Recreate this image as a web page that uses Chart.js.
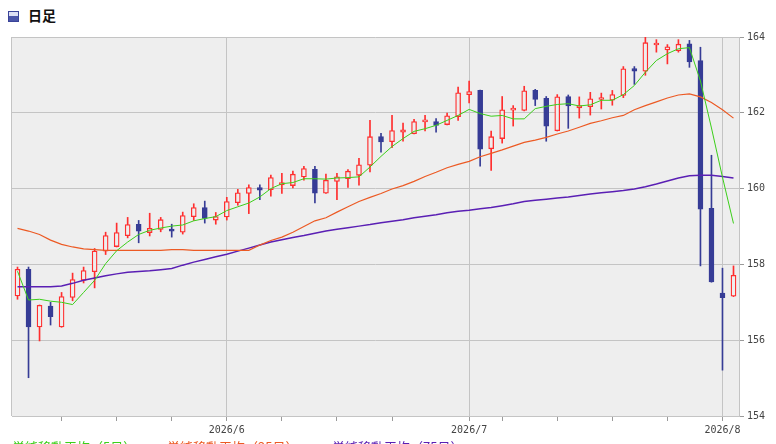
<!DOCTYPE html>
<html>
<head>
<meta charset="utf-8">
<script src="https://cdn.jsdelivr.net/npm/chart.js@4.4.1/dist/chart.umd.min.js"></script>
<style>
  body { margin: 0; background: #fff; width: 776px; height: 444px; overflow: hidden; position: relative; font-family: 'Noto Sans CJK JP', sans-serif; }
  #chart { position: absolute; left: 0; top: 0; }
  .title { position: absolute; left: 8px; top: 4px; font-size: 14px; font-weight: bold; color: #111; line-height: 22px; }
  .title i { display: inline-block; width: 9px; height: 9px; border: 1px solid #3a4499; background: linear-gradient(#dde0f4 45%, #4b56a9 45%); vertical-align: -1px; margin-right: 9px; }
  .legend span { position: absolute; top: 439px; font-size: 13px; line-height: 16px; white-space: nowrap; }
</style>
</head>
<body>
<div class="title"><i></i>日足</div>
<canvas id="chart" width="776" height="444"></canvas>
<div class="legend">
  <span style="left:12px;color:#3ccf1a">単純移動平均（5日）</span>
  <span style="left:167px;color:#ec5a24">単純移動平均（25日）</span>
  <span style="left:332px;color:#5a1fb4">単純移動平均（75日）</span>
</div>
<script>
// daily candles, 2026/5/5 - 2026/8/4
const dates = [
    '2026/5/5', '2026/5/6', '2026/5/7', '2026/5/8', '2026/5/11', '2026/5/12', '2026/5/13', '2026/5/14', '2026/5/15',
    '2026/5/18', '2026/5/19', '2026/5/20', '2026/5/21', '2026/5/22', '2026/5/25', '2026/5/26', '2026/5/27', '2026/5/28', '2026/5/29',
    '2026/6/1', '2026/6/2', '2026/6/3', '2026/6/4', '2026/6/5', '2026/6/8', '2026/6/9', '2026/6/10', '2026/6/11', '2026/6/12',
    '2026/6/15', '2026/6/16', '2026/6/17', '2026/6/18', '2026/6/19', '2026/6/22', '2026/6/23', '2026/6/24', '2026/6/25', '2026/6/26',
    '2026/6/29', '2026/6/30',
    '2026/7/1', '2026/7/2', '2026/7/3', '2026/7/6', '2026/7/7', '2026/7/8', '2026/7/9', '2026/7/10', '2026/7/13', '2026/7/14',
    '2026/7/15', '2026/7/16', '2026/7/17', '2026/7/20', '2026/7/21', '2026/7/22', '2026/7/23', '2026/7/24', '2026/7/27', '2026/7/28',
    '2026/7/29', '2026/7/30', '2026/7/31',
    '2026/8/3', '2026/8/4'
];

const opens = [
    157.17, 157.87, 156.35, 156.90, 156.35, 157.13, 157.58, 157.81, 158.35, 158.47,
    158.76, 159.06, 158.84, 158.92, 158.90, 158.85, 159.26, 159.50, 159.17, 159.25,
    159.63, 159.87, 160.03, 159.97, 160.10, 160.08, 160.31, 160.51, 159.88, 160.19,
    160.26, 160.35, 160.62, 161.37, 161.24, 161.49, 161.45, 161.76, 161.77, 161.69,
    161.90, 162.48, 162.59, 161.05, 161.32, 162.07, 162.06, 162.59, 162.38, 161.53,
    162.43, 162.13, 162.16, 162.35, 162.33, 162.46, 163.17, 163.10, 163.79, 163.66,
    163.64, 163.82, 163.38, 159.48, 157.24, 157.16
];
const highs = [
    157.93, 157.93, 156.93, 157.00, 157.26, 157.77, 157.93, 158.42, 158.85, 159.09,
    159.24, 159.16, 159.35, 159.24, 159.06, 159.38, 159.60, 159.67, 159.37, 159.77,
    159.98, 160.10, 160.10, 160.36, 160.40, 160.46, 160.59, 160.59, 160.38, 160.40,
    160.50, 160.80, 161.80, 161.46, 161.93, 161.73, 161.83, 161.93, 161.85, 161.99,
    162.68, 162.84, 162.60, 161.52, 162.43, 162.19, 162.70, 162.62, 162.43, 162.48,
    162.47, 162.42, 162.54, 162.52, 162.59, 163.22, 163.22, 164.00, 163.93, 163.80,
    163.93, 163.91, 163.73, 160.88, 157.90, 157.96
];
const lows = [
    157.08, 155.01, 155.98, 156.40, 156.34, 157.04, 157.51, 157.38, 158.26, 158.46,
    158.70, 158.57, 158.75, 158.86, 158.72, 158.80, 159.16, 159.09, 159.06, 159.17,
    159.56, 159.34, 159.71, 159.80, 159.87, 160.02, 160.22, 159.62, 159.87, 159.71,
    160.03, 160.09, 160.44, 160.96, 161.08, 161.25, 161.44, 161.52, 161.49, 161.68,
    161.80, 162.26, 160.59, 160.48, 161.20, 161.65, 162.05, 162.19, 161.25, 161.52,
    161.59, 161.86, 161.94, 162.10, 162.20, 162.40, 162.75, 162.99, 163.60, 163.29,
    163.60, 163.20, 157.96, 157.53, 155.21, 157.15
];
const closes = [
    157.87, 156.35, 156.92, 156.62, 157.15, 157.60, 157.84, 158.35, 158.76, 158.84,
    159.05, 158.88, 158.95, 159.18, 158.88, 159.29, 159.50, 159.21, 159.26, 159.66,
    159.89, 160.03, 159.96, 160.29, 160.16, 160.38, 160.53, 159.88, 160.22, 160.31,
    160.46, 160.63, 161.37, 161.23, 161.53, 161.55, 161.77, 161.78, 161.67, 161.92,
    162.53, 162.56, 161.04, 161.37, 162.08, 162.09, 162.58, 162.35, 161.65, 162.42,
    162.18, 162.19, 162.37, 162.37, 162.48, 163.16, 163.10, 163.85, 163.81, 163.74,
    163.81, 163.34, 159.46, 157.54, 157.12, 157.71
];

// moving averages
const ma5 = [
    157.82, 157.06, 157.08, 157.03, 157.00, 156.94, 157.26, 157.58, 158.02, 158.36,
    158.59, 158.79, 158.90, 158.96, 159.01, 159.04, 159.15, 159.21, 159.26, 159.42,
    159.52, 159.62, 159.78, 160.00, 160.13, 160.16, 160.26, 160.26, 160.25, 160.28,
    160.29, 160.31, 160.57, 160.85, 161.11, 161.32, 161.51, 161.58, 161.67, 161.80,
    161.93, 162.09, 161.98, 161.91, 161.93, 161.84, 161.84, 162.11, 162.17, 162.22,
    162.24, 162.18, 162.21, 162.33, 162.33, 162.48, 162.72, 163.07, 163.38, 163.56,
    163.69, 163.72, 162.84, 161.60, 160.30, 159.08
];
const ma25 = [
    158.95, 158.88, 158.79, 158.64, 158.53, 158.46, 158.41, 158.39, 158.37, 158.37,
    158.37, 158.37, 158.37, 158.37, 158.39, 158.39, 158.37, 158.37, 158.37, 158.37,
    158.37, 158.37, 158.51, 158.63, 158.72, 158.85, 159.00, 159.15, 159.23, 159.38,
    159.52, 159.66, 159.77, 159.87, 159.99, 160.08, 160.19, 160.32, 160.43, 160.55,
    160.64, 160.72, 160.84, 160.93, 161.02, 161.12, 161.22, 161.28, 161.35, 161.44,
    161.52, 161.62, 161.72, 161.79, 161.87, 161.93, 162.08, 162.19, 162.29, 162.39,
    162.47, 162.50, 162.42, 162.27, 162.08, 161.86
];
const ma75 = [
    157.41, 157.41, 157.41, 157.41, 157.43, 157.50, 157.58, 157.64, 157.70, 157.75,
    157.79, 157.81, 157.83, 157.86, 157.89, 157.98, 158.06, 158.13, 158.20, 158.27,
    158.35, 158.43, 158.51, 158.59, 158.65, 158.71, 158.76, 158.82, 158.88, 158.93,
    158.97, 159.01, 159.05, 159.10, 159.14, 159.18, 159.23, 159.27, 159.31, 159.36,
    159.40, 159.43, 159.47, 159.50, 159.55, 159.60, 159.66, 159.69, 159.72, 159.75,
    159.78, 159.82, 159.86, 159.89, 159.92, 159.95, 159.99, 160.05, 160.12, 160.20,
    160.28, 160.34, 160.35, 160.35, 160.32, 160.28
];

// weekly minor tick marks on the date axis
const weekTicks = ['2026/5/11', '2026/5/18', '2026/5/25', '2026/6/8', '2026/6/15', '2026/6/22',
    '2026/7/6', '2026/7/13', '2026/7/20', '2026/7/27'];

const yMin = 154, yMax = 164, yStep = 2;

const upColor = '#ff2e2e';
const downColor = '#363c96';
const gridColor = '#c4c4c4';
const isUp = closes.map((c, i) => c >= opens[i]);

function isMonthStart(i) {
    return i > 0 && dates[i].split('/')[1] !== dates[i - 1].split('/')[1];
}

const plotFrame = {
    id: 'plotFrame',
    beforeDraw(chart) {
        const a = chart.chartArea, ctx = chart.ctx;
        ctx.save();
        ctx.fillStyle = '#eeeeee';
        ctx.fillRect(a.left, a.top, a.right - a.left, a.bottom - a.top);
        ctx.restore();
    },
    afterDraw(chart) {
        const a = chart.chartArea, ctx = chart.ctx;
        ctx.save();
        ctx.strokeStyle = gridColor;
        ctx.lineWidth = 1;
        ctx.beginPath();
        ctx.moveTo(a.left - 0.5, a.top);
        ctx.lineTo(a.left - 0.5, a.bottom);
        ctx.stroke();
        ctx.restore();
    }
};

const tickFont = { family: 'DejaVu Sans Mono', size: 10 };

new Chart(document.querySelector('#chart'), {
    type: 'bar',
    data: {
        labels: dates,
        datasets: [
            {
                type: 'line',
                label: '単純移動平均（5日）',
                data: ma5,
                borderColor: '#3ccf1a',
                borderWidth: 1,
                pointRadius: 0,
                tension: 0
            },
            {
                type: 'line',
                label: '単純移動平均（25日）',
                data: ma25,
                borderColor: '#ec5a24',
                borderWidth: 1.2,
                pointRadius: 0,
                tension: 0
            },
            {
                type: 'line',
                label: '単純移動平均（75日）',
                data: ma75,
                borderColor: '#5a1fb4',
                borderWidth: 1.5,
                pointRadius: 0,
                tension: 0
            },
            {
                label: 'body',
                data: opens.map((o, i) => [o, closes[i]]),
                backgroundColor: isUp.map(u => u ? '#eeeeee' : downColor),
                borderColor: isUp.map(u => u ? upColor : downColor),
                borderWidth: 1.3,
                borderSkipped: false,
                barThickness: 5,
                minBarLength: 2,
                grouped: false
            },
            {
                label: 'wick',
                data: lows.map((l, i) => [l, highs[i]]),
                backgroundColor: isUp.map(u => u ? upColor : downColor),
                borderWidth: 0,
                barThickness: 1,
                grouped: false
            }
        ]
    },
    options: {
        responsive: false,
        animation: false,
        devicePixelRatio: 1,
        layout: { padding: { left: 12, top: 37, right: 0, bottom: 0 } },
        plugins: {
            legend: { display: false },
            tooltip: { enabled: false }
        },
        scales: {
            x: {
                afterFit: s => { s.height = 28; },
                border: { color: gridColor },
                grid: {
                    offset: false,
                    tickLength: 5,
                    color: c => isMonthStart(c.index) ? gridColor : 'rgba(0,0,0,0)',
                    tickColor: c => (isMonthStart(c.index) || weekTicks.includes(dates[c.index])) ? '#9a9a9a' : 'rgba(0,0,0,0)'
                },
                ticks: {
                    autoSkip: false,
                    maxRotation: 0,
                    padding: 3,
                    color: '#444',
                    font: tickFont,
                    callback: (v, i) => isMonthStart(i) ? dates[i].split('/').slice(0, 2).join('/') : ''
                }
            },
            y: {
                position: 'right',
                min: yMin,
                max: yMax,
                afterFit: s => { s.width = 37; },
                border: { color: gridColor },
                grid: { color: gridColor, tickColor: '#9a9a9a', tickLength: 5 },
                ticks: { stepSize: yStep, padding: 3, color: '#444', font: tickFont }
            }
        }
    },
    plugins: [plotFrame]
});
</script>
</body>
</html>
